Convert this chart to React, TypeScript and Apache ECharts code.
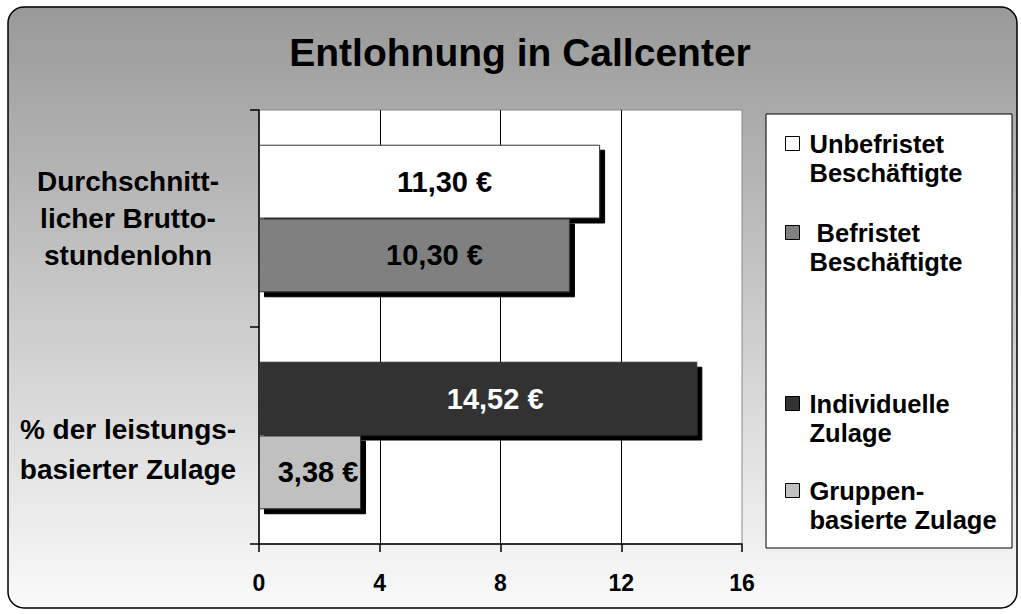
import React, { useEffect, useRef } from 'react';
import * as echarts from 'echarts';

const chartTitle = 'Entlohnung in Callcenter';
const categories = ['Durchschnitt-\nlicher Brutto-\nstundenlohn', '% der leistungs-\nbasierter Zulage'];
const seriesNames = ['Unbefristet Beschäftigte', 'Befristet Beschäftigte', 'Individuelle Zulage', 'Gruppenbasierte Zulage'];
const legendLabels = ['Unbefristet\nBeschäftigte', ' Befristet\nBeschäftigte', 'Individuelle\nZulage', 'Gruppen-\nbasierte Zulage'];
const unbefristet: (number | null)[] = [11.3, null];
const befristet: (number | null)[] = [10.3, null];
const individuelle: (number | null)[] = [null, 14.52];
const gruppen: (number | null)[] = [null, 3.38];
const xMin = 0;
const xMax = 16;
const xInterval = 4;

const FONT = '"Liberation Sans", Arial, Helvetica, sans-serif';

const fmt = (v: number) => v.toFixed(2).replace('.', ',') + ' €';

export default function App() {
  const ref = useRef<HTMLDivElement>(null);
  useEffect(() => {
    document.body.style.margin = '0';
    const chart = echarts.init(ref.current!, null, { renderer: 'svg' });
    const mkSeries = (idx: number, stack: string, data: (number | null)[], color: string, labelColor: string, dx: number) => ({
      name: seriesNames[idx],
      type: 'bar',
      stack,
      data: data.map((v) => (v == null ? '-' : v)),
      barGap: '0%',
      barCategoryGap: '32%',
      itemStyle: {
        color,
        borderColor: '#333',
        borderWidth: 1,
        shadowColor: '#000',
        shadowOffsetX: 5,
        shadowOffsetY: 5,
        shadowBlur: 0,
      },
      emphasis: { disabled: true },
      label: {
        show: true,
        position: 'inside',
        offset: [dx, 0],
        formatter: (p: any) => fmt(p.value),
        fontSize: 29,
        fontWeight: 'bold',
        fontFamily: FONT,
        color: labelColor,
        textBorderWidth: 0,
      },
    });
    const legendBase = {
      orient: 'vertical',
      left: 785,
      padding: 0,
      icon: 'rect',
      itemWidth: 14,
      itemHeight: 14,
      selectedMode: false,
      itemStyle: { borderColor: '#000', borderWidth: 1 },
      formatter: (name: string) => '\n' + legendLabels[seriesNames.indexOf(name)],
      textStyle: {
        fontSize: 25.5,
        fontWeight: 'bold',
        fontFamily: FONT,
        color: '#000',
        lineHeight: 29,
        padding: [0, 0, 0, 5],
      },
    };
    chart.setOption({
      animation: false,
      backgroundColor: '#fff',
      title: {
        text: chartTitle,
        left: 515,
        top: 28,
        textAlign: 'center',
        textStyle: { fontSize: 39, fontWeight: 'bold', fontFamily: FONT, color: '#000' },
      },
      graphic: [
        {
          type: 'rect',
          z: -10,
          shape: { x: 8, y: 7, width: 1009, height: 601, r: 16 },
          style: {
            fill: new echarts.graphic.LinearGradient(0, 0, 0, 1, [
              { offset: 0, color: '#999999' },
              { offset: 1, color: '#fafafa' },
            ]),
            stroke: '#000',
            lineWidth: 1.5,
          },
        },
        {
          type: 'rect',
          z: -9,
          shape: { x: 766, y: 114, width: 246, height: 434 },
          style: { fill: '#fff', stroke: '#000', lineWidth: 1 },
        },
      ],
      legend: [
        { ...legendBase, top: 100, itemGap: 2, data: [seriesNames[0], seriesNames[1]] },
        { ...legendBase, top: 360, itemGap: 0, data: [seriesNames[2], seriesNames[3]] },
      ],
      grid: {
        left: 259,
        top: 110,
        width: 483,
        height: 434,
        show: true,
        containLabel: false,
        outerBoundsMode: 'none',
        backgroundColor: '#fff',
        borderColor: '#888',
        borderWidth: 1,
      },
      xAxis: {
        type: 'value',
        min: xMin,
        max: xMax,
        interval: xInterval,
        axisLine: { show: true, lineStyle: { color: '#000', width: 1.5 } },
        axisTick: { show: true, length: 8, lineStyle: { color: '#000', width: 1.5 } },
        splitLine: { show: true, showMinLine: false, showMaxLine: false, lineStyle: { color: '#000', width: 1 } },
        axisLabel: { margin: 27, fontSize: 23, fontWeight: 'bold', fontFamily: FONT, color: '#000' },
      },
      yAxis: {
        type: 'category',
        inverse: true,
        data: [
          { value: categories[0] },
          { value: categories[1], textStyle: { align: 'center', lineHeight: 40 } },
        ],
        axisLine: { show: true, lineStyle: { color: '#000', width: 1.5 } },
        axisTick: { show: true, length: 9, lineStyle: { color: '#000', width: 1.5 } },
        axisLabel: {
          margin: 131,
          align: 'center',
          fontSize: 28,
          fontWeight: 'bold',
          fontFamily: FONT,
          color: '#000',
          lineHeight: 37,
          formatter: (v: string) => (v === categories[1] ? '{gap|}\n' + v : v),
          rich: { gap: { height: 28, lineHeight: 28 } },
        },
      },
      series: [
        mkSeries(0, 'a', unbefristet, '#ffffff', '#000', 15),
        mkSeries(1, 'b', befristet, '#808080', '#000', 20),
        mkSeries(2, 'a', individuelle, '#333333', '#fff', 17),
        mkSeries(3, 'b', gruppen, '#c0c0c0', '#000', 8),
      ],
    });
    return () => chart.dispose();
  }, []);
  return <div ref={ref} style={{ width: 1021, height: 614 }} />;
}
